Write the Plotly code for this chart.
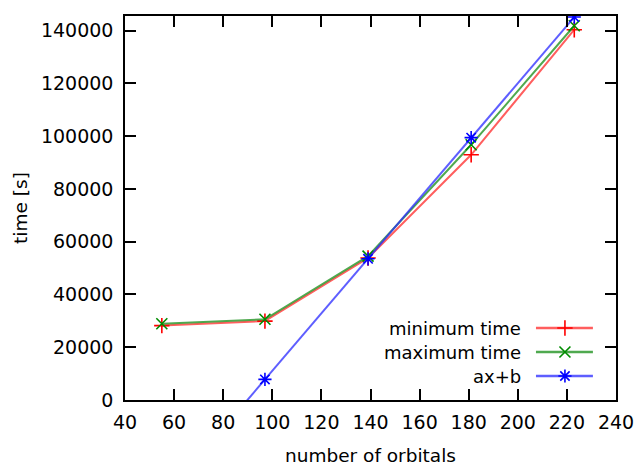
import plotly.graph_objects as go

# ---- data ----
orbitals = [55, 97, 139, 181, 223]
min_time = [28200, 29900, 53800, 92900, 140300]
max_time = [28900, 30600, 54500, 96700, 141800]
fit_x = [55, 97, 139, 181, 223]
fit_time = [-38000, 7800, 53500, 99400, 145100]

series_names = ["minimum time", "maximum time", "ax+b"]
x_ticks = list(range(40, 241, 20))
y_ticks = list(range(0, 140001, 20000))

FONT = "DejaVu Sans"
FS = 18.5
TFS = 19
RED_L = "rgba(255,40,40,0.75)"
GRN_L = "rgba(20,140,20,0.75)"
BLU_L = "rgba(40,40,255,0.75)"
RED = "rgb(255,0,0)"
GRN = "rgb(0,140,0)"
BLU = "rgb(0,0,255)"

styles = [
    (min_time, orbitals, RED_L, RED, "cross-thin"),
    (max_time, orbitals, GRN_L, GRN, "x-thin"),
    (fit_time, fit_x, BLU_L, BLU, "asterisk"),
]

fig = go.Figure()
for (yv, xv, lc, mc, sym), name in zip(styles, series_names):
    fig.add_trace(go.Scatter(
        x=xv, y=yv, mode="lines+markers", name=name, showlegend=False,
        line=dict(color=lc, width=2),
        marker=dict(symbol=sym, size=11, color=mc, line=dict(color=mc, width=1.6)),
    ))

# manual gnuplot-style legend (text left, sample right) on a hidden overlay axis
leg_rows = [0.1875, 0.125, 0.0625]
leg_x0, leg_x1, leg_xm, leg_tx = 0.837, 0.953, 0.896, 0.811
for (yv, xv, lc, mc, sym), name, gy in zip(styles, series_names, leg_rows):
    fig.add_trace(go.Scatter(
        x=[leg_x0, leg_x1], y=[gy, gy], mode="lines", xaxis="x2", yaxis="y2",
        showlegend=False, line=dict(color=lc, width=2.5), hoverinfo="skip"))
    fig.add_trace(go.Scatter(
        x=[leg_xm], y=[gy], mode="markers", xaxis="x2", yaxis="y2",
        showlegend=False, hoverinfo="skip",
        marker=dict(symbol=sym, size=11, color=mc, line=dict(color=mc, width=1.6))))
    fig.add_annotation(x=leg_tx, y=gy, xref="paper", yref="paper", text=name,
                       showarrow=False, xanchor="right", yanchor="middle",
                       font=dict(family=FONT, size=18, color="black"))

axis_common = dict(
    automargin=False,
    showgrid=False, zeroline=False, showline=True, linecolor="black", linewidth=1.5,
    mirror="ticks", ticks="inside", ticklen=11, tickwidth=1.5, tickcolor="black",
    tickfont=dict(family=FONT, size=TFS, color="black"),
)

fig.update_layout(
    width=635, height=468,
    margin=dict(l=125, r=19, t=16, b=68, autoexpand=False),
    paper_bgcolor="white", plot_bgcolor="white",
    font=dict(family=FONT, size=FS, color="black"),
    xaxis=dict(range=[40, 240], tickvals=x_ticks, ticktext=[str(v) for v in x_ticks],
               title=dict(text="number of orbitals", font=dict(family=FONT, size=FS), standoff=18),
               ticklabelstandoff=4, **axis_common),
    yaxis=dict(range=[0, 145500], tickvals=y_ticks, ticktext=[str(v) for v in y_ticks],
               title=dict(text="time [s]", font=dict(family=FONT, size=FS), standoff=8),
               ticklabelstandoff=6, **axis_common),
    xaxis2=dict(range=[0, 1], overlaying="x", visible=False, fixedrange=True),
    yaxis2=dict(range=[0, 1], overlaying="y", visible=False, fixedrange=True),
)

fig.write_html(
    "out.html",
    config={"displayModeBar": False},
    post_script=(
        "document.body.style.margin='0';"
        "document.body.style.overflow='hidden';"
        "document.documentElement.style.overflow='hidden';"
    ),
)
